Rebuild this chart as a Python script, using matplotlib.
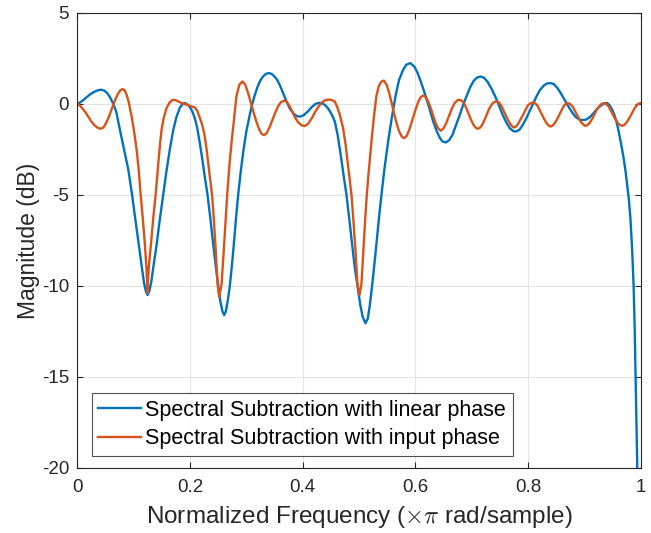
import matplotlib
matplotlib.use("Agg")
import matplotlib.pyplot as plt

# Spectral Subtraction with linear phase
freq_linear = [0.000, 0.005, 0.010, 0.015, 0.020, 0.025, 0.030, 0.035, 0.039, 0.043,
               0.048, 0.053, 0.058, 0.0636, 0.069, 0.0754, 0.080, 0.085, 0.0902, 0.097,
               0.103, 0.109, 0.114, 0.118, 0.1215, 0.1245, 0.1275, 0.131, 0.135, 0.1405,
               0.146, 0.1523, 0.158, 0.164, 0.170, 0.176, 0.182, 0.187, 0.191, 0.196,
               0.200, 0.204, 0.2085, 0.2125, 0.217, 0.222, 0.226, 0.231, 0.236, 0.241,
               0.2455, 0.250, 0.254, 0.2575, 0.2605, 0.2635, 0.267, 0.2706, 0.2745, 0.278,
               0.2815, 0.2854, 0.290, 0.295, 0.300, 0.306, 0.310, 0.315, 0.320, 0.325,
               0.330, 0.335, 0.340, 0.345, 0.350, 0.355, 0.360, 0.365, 0.371, 0.377,
               0.384, 0.390, 0.396, 0.402, 0.409, 0.416, 0.422, 0.428, 0.433, 0.439,
               0.445, 0.451, 0.457, 0.462, 0.467, 0.472, 0.4777, 0.483, 0.488, 0.4925,
               0.4972, 0.502, 0.5065, 0.5114, 0.5155, 0.519, 0.5232, 0.528, 0.5325, 0.536,
               0.5398, 0.545, 0.552, 0.558, 0.5652, 0.571, 0.578, 0.584, 0.591, 0.598,
               0.604, 0.610, 0.617, 0.624, 0.631, 0.638, 0.644, 0.649, 0.654, 0.660,
               0.666, 0.672, 0.679, 0.685, 0.692, 0.698, 0.704, 0.710, 0.716, 0.722,
               0.728, 0.735, 0.742, 0.748, 0.755, 0.762, 0.768, 0.774, 0.779, 0.785,
               0.791, 0.797, 0.803, 0.809, 0.815, 0.821, 0.828, 0.834, 0.840, 0.846,
               0.852, 0.858, 0.864, 0.871, 0.878, 0.884, 0.890, 0.896, 0.902, 0.908,
               0.914, 0.920, 0.926, 0.932, 0.937, 0.941, 0.945, 0.950, 0.954, 0.957,
               0.961, 0.9657, 0.970, 0.9734, 0.976, 0.979, 0.982, 0.985, 0.9876, 0.9895,
               0.9911, 0.9927, 0.9941, 0.9955]
mag_linear = [0.00, 0.08, 0.20, 0.33, 0.46, 0.57, 0.66, 0.73, 0.76, 0.77,
              0.72, 0.58, 0.35, 0.00, -0.45, -1.43, -2.10, -2.80, -3.60, -5.00,
              -6.40, -7.75, -8.90, -9.80, -10.30, -10.50, -10.30, -9.80, -8.90, -7.75,
              -6.40, -5.00, -3.70, -2.50, -1.45, -0.70, -0.20, 0.00, 0.04, -0.05,
              -0.20, -0.42, -0.80, -1.30, -2.10, -3.10, -4.00, -5.00, -6.30, -7.70,
              -8.90, -10.00, -10.90, -11.40, -11.60, -11.40, -10.80, -10.00, -8.80, -7.60,
              -6.30, -5.00, -3.70, -2.50, -1.50, -0.60, -0.05, 0.49, 0.95, 1.30,
              1.52, 1.65, 1.69, 1.64, 1.50, 1.30, 0.98, 0.60, 0.15, -0.25,
              -0.55, -0.68, -0.70, -0.62, -0.42, -0.18, -0.02, 0.05, 0.04, -0.05,
              -0.25, -0.55, -0.97, -1.70, -2.70, -3.80, -5.00, -6.40, -7.80, -9.00,
              -10.00, -11.00, -11.70, -12.05, -11.80, -11.10, -10.00, -8.60, -7.20, -6.10,
              -5.00, -3.60, -2.00, -0.80, 0.49, 1.30, 1.85, 2.15, 2.24, 2.05,
              1.70, 1.20, 0.55, -0.15, -0.90, -1.50, -1.90, -2.08, -2.12, -2.00,
              -1.70, -1.20, -0.60, -0.05, 0.50, 0.95, 1.28, 1.45, 1.50, 1.43,
              1.22, 0.85, 0.40, -0.05, -0.60, -1.05, -1.35, -1.50, -1.52, -1.42,
              -1.15, -0.80, -0.40, 0.00, 0.40, 0.75, 1.00, 1.12, 1.14, 1.08,
              0.88, 0.60, 0.28, -0.10, -0.45, -0.70, -0.84, -0.89, -0.88, -0.78,
              -0.60, -0.38, -0.18, -0.04, 0.03, 0.04, -0.08, -0.35, -0.65, -0.97,
              -1.50, -2.25, -3.00, -3.72, -4.40, -5.20, -6.30, -8.00, -10.00, -12.30,
              -15.00, -17.50, -19.90, -22.00]

# Spectral Subtraction with input phase
freq_input = [0.000, 0.005, 0.010, 0.015, 0.020, 0.025, 0.030, 0.035, 0.041, 0.046,
              0.051, 0.056, 0.061, 0.066, 0.071, 0.076, 0.080, 0.084, 0.0873, 0.091,
              0.0962, 0.100, 0.105, 0.109, 0.112, 0.116, 0.1198, 0.1225, 0.1245, 0.1265,
              0.1304, 0.1345, 0.1388, 0.1415, 0.144, 0.147, 0.1494, 0.153, 0.158, 0.163,
              0.168, 0.1718, 0.176, 0.181, 0.186, 0.191, 0.196, 0.2027, 0.2085, 0.213,
              0.217, 0.221, 0.225, 0.2285, 0.232, 0.2355, 0.239, 0.2425, 0.246, 0.2488,
              0.2516, 0.2559, 0.2595, 0.263, 0.2659, 0.269, 0.2715, 0.274, 0.2775, 0.2825,
              0.2875, 0.293, 0.298, 0.303, 0.308, 0.313, 0.318, 0.323, 0.327, 0.3315,
              0.336, 0.341, 0.346, 0.351, 0.356, 0.361, 0.367, 0.372, 0.377, 0.382,
              0.387, 0.392, 0.398, 0.404, 0.410, 0.416, 0.422, 0.428, 0.434, 0.440,
              0.445, 0.450, 0.457, 0.461, 0.4655, 0.4717, 0.476, 0.4805, 0.4866, 0.4905,
              0.494, 0.4972, 0.5008, 0.5043, 0.508, 0.511, 0.5138, 0.517, 0.522, 0.5265,
              0.531, 0.535, 0.539, 0.544, 0.549, 0.553, 0.558, 0.562, 0.567, 0.571,
              0.576, 0.580, 0.585, 0.590, 0.595, 0.600, 0.605, 0.610, 0.614, 0.618,
              0.622, 0.627, 0.631, 0.636, 0.640, 0.645, 0.650, 0.655, 0.660, 0.665,
              0.670, 0.675, 0.679, 0.683, 0.687, 0.691, 0.695, 0.699, 0.703, 0.707,
              0.711, 0.715, 0.719, 0.723, 0.727, 0.731, 0.736, 0.740, 0.744, 0.748,
              0.752, 0.756, 0.760, 0.764, 0.768, 0.772, 0.775, 0.779, 0.783, 0.787,
              0.792, 0.796, 0.800, 0.805, 0.809, 0.813, 0.817, 0.821, 0.825, 0.829,
              0.833, 0.837, 0.840, 0.844, 0.848, 0.852, 0.856, 0.860, 0.864, 0.868,
              0.871, 0.875, 0.879, 0.883, 0.887, 0.891, 0.895, 0.899, 0.902, 0.906,
              0.910, 0.914, 0.918, 0.922, 0.927, 0.931, 0.935, 0.939, 0.943, 0.947,
              0.951, 0.955, 0.959, 0.963, 0.967, 0.971, 0.975, 0.979, 0.984, 0.988,
              0.992, 0.996, 1.000]
mag_input = [0.00, -0.12, -0.30, -0.50, -0.75, -0.98, -1.17, -1.30, -1.37, -1.30,
             -1.05, -0.70, -0.28, 0.15, 0.50, 0.74, 0.81, 0.74, 0.49, 0.10,
             -0.70, -1.40, -2.50, -3.70, -4.90, -6.30, -7.75, -9.00, -10.40, -9.00,
             -7.75, -6.30, -5.00, -4.00, -3.10, -2.10, -1.40, -0.80, -0.25, 0.05,
             0.20, 0.22, 0.18, 0.10, 0.03, -0.02, -0.06, -0.15, -0.20, -0.40,
             -0.75, -1.10, -1.60, -2.30, -3.20, -4.10, -5.00, -6.50, -8.30, -9.90,
             -10.60, -9.90, -8.20, -6.40, -5.00, -3.70, -2.80, -2.00, -1.00, 0.45,
             1.05, 1.23, 1.05, 0.60, 0.05, -0.50, -1.00, -1.42, -1.65, -1.72,
             -1.60, -1.30, -0.90, -0.50, -0.15, 0.08, 0.18, 0.10, -0.15, -0.45,
             -0.78, -1.02, -1.18, -1.22, -1.08, -0.80, -0.45, -0.15, 0.08, 0.20,
             0.23, 0.22, 0.13, -0.15, -0.55, -1.34, -2.20, -3.40, -5.00, -6.60,
             -8.20, -9.90, -10.50, -9.90, -7.90, -6.30, -5.00, -3.80, -2.10, -0.70,
             0.45, 0.95, 1.20, 1.28, 1.05, 0.65, 0.05, -0.50, -1.10, -1.50,
             -1.80, -1.89, -1.75, -1.35, -0.85, -0.35, 0.10, 0.38, 0.46, 0.38,
             0.18, -0.20, -0.60, -1.05, -1.32, -1.48, -1.35, -1.05, -0.65, -0.25,
             0.05, 0.20, 0.22, 0.16, 0.00, -0.27, -0.57, -0.88, -1.14, -1.31,
             -1.37, -1.31, -1.14, -0.88, -0.58, -0.28, -0.02, 0.10, 0.13, 0.08,
             -0.07, -0.32, -0.59, -0.85, -1.08, -1.24, -1.30, -1.24, -1.07, -0.84,
             -0.57, -0.30, -0.08, 0.04, 0.07, 0.02, -0.11, -0.35, -0.60, -0.85,
             -1.06, -1.20, -1.25, -1.20, -1.05, -0.83, -0.58, -0.33, -0.10, 0.01,
             0.04, -0.01, -0.14, -0.36, -0.60, -0.84, -1.03, -1.16, -1.21, -1.16,
             -1.03, -0.83, -0.59, -0.34, -0.12, 0.00, 0.04, -0.01, -0.14, -0.36,
             -0.60, -0.84, -1.03, -1.16, -1.21, -1.16, -1.03, -0.83, -0.56, -0.32,
             -0.12, 0.00, 0.04]

x_ticks = [0, 0.2, 0.4, 0.6, 0.8, 1]
x_tick_labels = ["0", "0.2", "0.4", "0.6", "0.8", "1"]
y_ticks = [-20, -15, -10, -5, 0, 5]
y_tick_labels = ["-20", "-15", "-10", "-5", "0", "5"]

plt.rcParams['font.family'] = ['Liberation Sans', 'DejaVu Sans']
plt.rcParams['mathtext.fontset'] = 'cm'

fig = plt.figure(figsize=(6.51, 5.33), dpi=100)
ax = fig.add_axes([0.119, 0.122, 0.865, 0.854])

ax.plot(freq_linear, mag_linear, color='#0072BD', lw=1.7,
        label='Spectral Subtraction with linear phase', solid_joinstyle='round')
ax.plot(freq_input, mag_input, color='#D95319', lw=1.7,
        label='Spectral Subtraction with input phase', solid_joinstyle='round')

ax.set_xlim(0, 1)
ax.set_ylim(-20, 5)
ax.set_xticks(x_ticks)
ax.set_xticklabels(x_tick_labels)
ax.set_yticks(y_ticks)
ax.set_yticklabels(y_tick_labels)
ax.grid(True, color='#e3e3e3', lw=0.8)
ax.set_axisbelow(True)
ax.tick_params(direction='in', top=True, right=True, labelsize=13.5,
               colors='#262626', length=4, width=0.8)
ax.tick_params(axis='x', pad=8)
ax.tick_params(axis='y', pad=6)
for s in ax.spines.values():
    s.set_color('#262626')
    s.set_linewidth(0.8)

ax.set_xlabel(r'Normalized Frequency ($\times\pi$ rad/sample)', fontsize=17.5,
              color='#262626', labelpad=6)
ax.set_ylabel('Magnitude (dB)', fontsize=16.5, color='#262626', labelpad=1)

leg = ax.legend(loc='lower left', bbox_to_anchor=(0.025, 0.027), fontsize=15.5,
                frameon=True, fancybox=False, edgecolor='#262626',
                handlelength=2.0, handletextpad=0.2, borderpad=0.3,
                labelspacing=0.35, borderaxespad=0)
leg.get_frame().set_linewidth(0.8)

fig.savefig('out.png', dpi=100)
